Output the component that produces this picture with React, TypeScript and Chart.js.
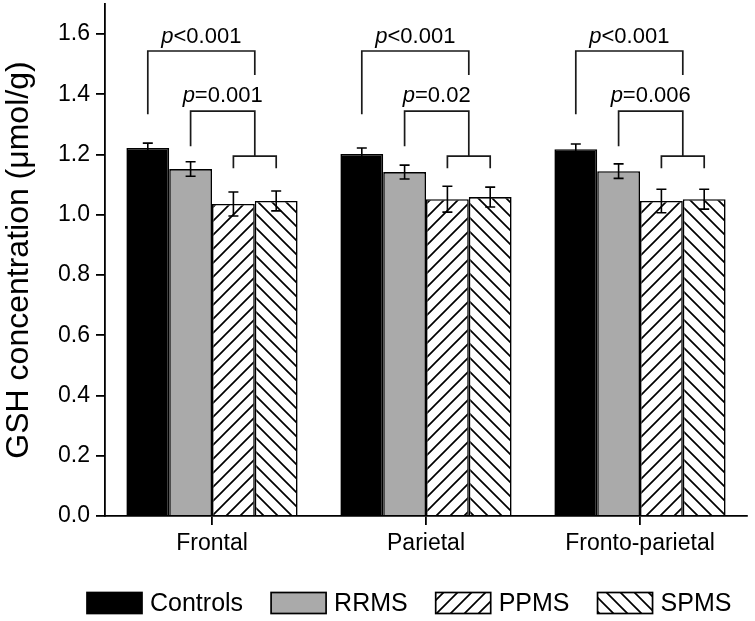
import React, { useEffect, useRef } from 'react';
import { Chart, registerables } from 'chart.js';

Chart.register(...registerables);

// ---------- data ----------
const categories = ['Frontal', 'Parietal', 'Fronto-parietal'];
const groupNames = ['Controls', 'RRMS', 'PPMS', 'SPMS'];

const controlsMean = [1.222, 1.202, 1.218];
const controlsErr = [0.016, 0.020, 0.017];
const rrmsMean = [1.152, 1.142, 1.145];
const rrmsErr = [0.024, 0.023, 0.024];
const ppmsMean = [1.036, 1.052, 1.046];
const ppmsErr = [0.040, 0.043, 0.039];
const spmsMean = [1.046, 1.059, 1.052];
const spmsErr = [0.033, 0.033, 0.033];

const yTickValues = [0, 0.2, 0.4, 0.6, 0.8, 1.0, 1.2, 1.4, 1.6];
const yMax = 1.7;

// significance annotations (one per category)
const pOuter = ['<0.001', '<0.001', '<0.001'];
const pInner = ['=0.001', '=0.02', '=0.006'];
// bracket levels in data units
const outerTop = 1.544;
const outerLeftEnd = 1.334;
const outerRightEnd = 1.464;
const innerTop = 1.344;
const innerLeftEnd = 1.228;
const lowerTop = 1.195;
const lowerEnd = 1.155;
const outerLabelLevel = 1.570;
const innerLabelLevel = 1.374;

const FONT = '"Liberation Sans", Arial, Helvetica, sans-serif';

function makeHatch(forward: boolean): CanvasPattern | string {
  const s = 14;
  const c = document.createElement('canvas');
  c.width = s;
  c.height = s;
  const g = c.getContext('2d');
  if (!g) return '#fff';
  g.fillStyle = '#ffffff';
  g.fillRect(0, 0, s, s);
  g.strokeStyle = '#000000';
  g.lineWidth = 1.7;
  g.beginPath();
  if (forward) {
    g.moveTo(-2, s + 2); g.lineTo(s + 2, -2);
    g.moveTo(-2, 2); g.lineTo(2, -2);
    g.moveTo(s - 2, s + 2); g.lineTo(s + 2, s - 2);
  } else {
    g.moveTo(-2, -2); g.lineTo(s + 2, s + 2);
    g.moveTo(s - 2, -2); g.lineTo(s + 2, 2);
    g.moveTo(-2, s - 2); g.lineTo(2, s + 2);
  }
  g.stroke();
  return g.createPattern(c, 'repeat') || '#fff';
}

export default function App() {
  const ref = useRef<HTMLCanvasElement | null>(null);

  useEffect(() => {
    document.body.style.margin = '0';
    const canvas = ref.current;
    if (!canvas) return;

    const fills: any[] = ['#000000', '#aaaaaa', makeHatch(true), makeHatch(false)];
    const means = [controlsMean, rrmsMean, ppmsMean, spmsMean];
    const errs = [controlsErr, rrmsErr, ppmsErr, spmsErr];

    const overlay = {
      id: 'overlay',
      afterDatasetsDraw(chart: any) {
        const ctx = chart.ctx;
        const y = chart.scales.y;
        ctx.save();
        // error bars
        ctx.strokeStyle = '#000';
        ctx.lineWidth = 1.6;
        for (let d = 0; d < means.length; d++) {
          const meta = chart.getDatasetMeta(d);
          meta.data.forEach((bar: any, i: number) => {
            const m = means[d][i];
            const e = errs[d][i];
            const yt = y.getPixelForValue(m + e);
            const yb = y.getPixelForValue(m - e);
            const x = bar.x;
            ctx.beginPath();
            ctx.moveTo(x, yt); ctx.lineTo(x, yb);
            ctx.moveTo(x - 5, yt); ctx.lineTo(x + 5, yt);
            ctx.moveTo(x - 5, yb); ctx.lineTo(x + 5, yb);
            ctx.stroke();
          });
        }
        // brackets
        ctx.strokeStyle = '#1a1a1a';
        ctx.lineWidth = 1.7;
        const m0 = chart.getDatasetMeta(0).data;
        const m1 = chart.getDatasetMeta(1).data;
        const m2 = chart.getDatasetMeta(2).data;
        const m3 = chart.getDatasetMeta(3).data;
        const drawP = (cx: number, cy: number, rest: string) => {
          ctx.fillStyle = '#000';
          ctx.textBaseline = 'alphabetic';
          ctx.textAlign = 'left';
          ctx.font = 'italic 22px ' + FONT;
          const wp = ctx.measureText('p').width;
          ctx.font = '22px ' + FONT;
          const wr = ctx.measureText(rest).width;
          const x0 = cx - (wp + wr) / 2;
          ctx.font = 'italic 22px ' + FONT;
          ctx.fillText('p', x0, cy);
          ctx.font = '22px ' + FONT;
          ctx.fillText(rest, x0 + wp, cy);
        };
        for (let i = 0; i < categories.length; i++) {
          const xc = m0[i].x;
          const xr = m1[i].x;
          const xp = m2[i].x;
          const xs = m3[i].x;
          const xmid = (xp + xs) / 2;
          ctx.beginPath();
          // outer bracket
          ctx.moveTo(xc, y.getPixelForValue(outerLeftEnd));
          ctx.lineTo(xc, y.getPixelForValue(outerTop));
          ctx.lineTo(xmid, y.getPixelForValue(outerTop));
          ctx.lineTo(xmid, y.getPixelForValue(outerRightEnd));
          // inner bracket
          ctx.moveTo(xr, y.getPixelForValue(innerLeftEnd));
          ctx.lineTo(xr, y.getPixelForValue(innerTop));
          ctx.lineTo(xmid, y.getPixelForValue(innerTop));
          ctx.lineTo(xmid, y.getPixelForValue(lowerTop));
          // lower bracket
          ctx.moveTo(xp, y.getPixelForValue(lowerEnd));
          ctx.lineTo(xp, y.getPixelForValue(lowerTop));
          ctx.lineTo(xs, y.getPixelForValue(lowerTop));
          ctx.lineTo(xs, y.getPixelForValue(lowerEnd));
          ctx.stroke();
          drawP((xc + xmid) / 2, y.getPixelForValue(outerLabelLevel), pOuter[i]);
          drawP((xr + xmid) / 2, y.getPixelForValue(innerLabelLevel), pInner[i]);
        }
        ctx.restore();
      },
      afterDraw(chart: any) {
        // legend
        const ctx = chart.ctx;
        ctx.save();
        ctx.font = '25px ' + FONT;
        ctx.textBaseline = 'middle';
        ctx.textAlign = 'left';
        const boxW = 55;
        const boxH = 21;
        const gapBoxText = 8;
        const gapItems = 28;
        const cy = 603;
        let x = 87;
        groupNames.forEach((name, i) => {
          ctx.fillStyle = fills[i];
          ctx.fillRect(x, cy - boxH / 2, boxW, boxH);
          ctx.strokeStyle = '#000';
          ctx.lineWidth = 1.7;
          ctx.strokeRect(x, cy - boxH / 2, boxW, boxH);
          ctx.fillStyle = '#000';
          const tx = x + boxW + gapBoxText;
          ctx.fillText(name, tx, cy + 1);
          x = tx + ctx.measureText(name).width + gapItems;
        });
        ctx.restore();
      },
    };

    const chart = new Chart(canvas, {
      type: 'bar',
      data: {
        labels: categories,
        datasets: groupNames.map((name, i) => ({
          label: name,
          data: means[i],
          backgroundColor: fills[i],
          borderColor: '#000',
          borderWidth: 1.6,
          categoryPercentage: 0.8,
          barPercentage: 1.0,
        })),
      },
      options: {
        responsive: false,
        animation: false,
        events: [],
        layout: { padding: { top: 4, right: 8, bottom: 55, left: 0 } },
        plugins: {
          legend: { display: false },
          tooltip: { enabled: false },
        },
        scales: {
          x: {
            type: 'category',
            offset: true,
            grid: {
              offset: false,
              drawOnChartArea: false,
              drawTicks: true,
              tickLength: 9,
              color: '#000',
              tickColor: '#000',
              lineWidth: 1.8,
            },
            border: { display: true, color: '#000', width: 1.8 },
            ticks: { color: '#000', font: { family: FONT, size: 23 }, padding: 5, maxRotation: 0 },
            afterFit: (s: any) => {
              s.height = 50;
              s.paddingLeft = 0;
              s.paddingRight = 0;
            },
          },
          y: {
            type: 'linear',
            min: 0,
            max: yMax,
            grid: {
              drawOnChartArea: false,
              drawTicks: true,
              tickLength: 9,
              color: '#000',
              tickColor: '#000',
              lineWidth: 1.8,
            },
            border: { display: true, color: '#000', width: 1.8 },
            afterBuildTicks: (s: any) => {
              s.ticks = yTickValues.map((v) => ({ value: v }));
            },
            ticks: {
              color: '#000',
              font: { family: FONT, size: 23 },
              padding: 6,
              callback: (v: any) => Number(v).toFixed(1),
            },
            title: {
              display: true,
              text: 'GSH concentration (μmol/g)',
              color: '#000',
              font: { family: FONT, size: 32 },
              padding: 0,
            },
            afterFit: (s: any) => {
              s.width = 105;
              s.paddingTop = 0;
              s.paddingBottom = 0;
            },
          },
        },
      },
      plugins: [overlay],
    } as any);

    return () => chart.destroy();
  }, []);

  return (
    <div style={{ width: 755, height: 621 }}>
      <canvas ref={ref} width={755} height={621} style={{ display: 'block', width: 755, height: 621 }} />
    </div>
  );
}
